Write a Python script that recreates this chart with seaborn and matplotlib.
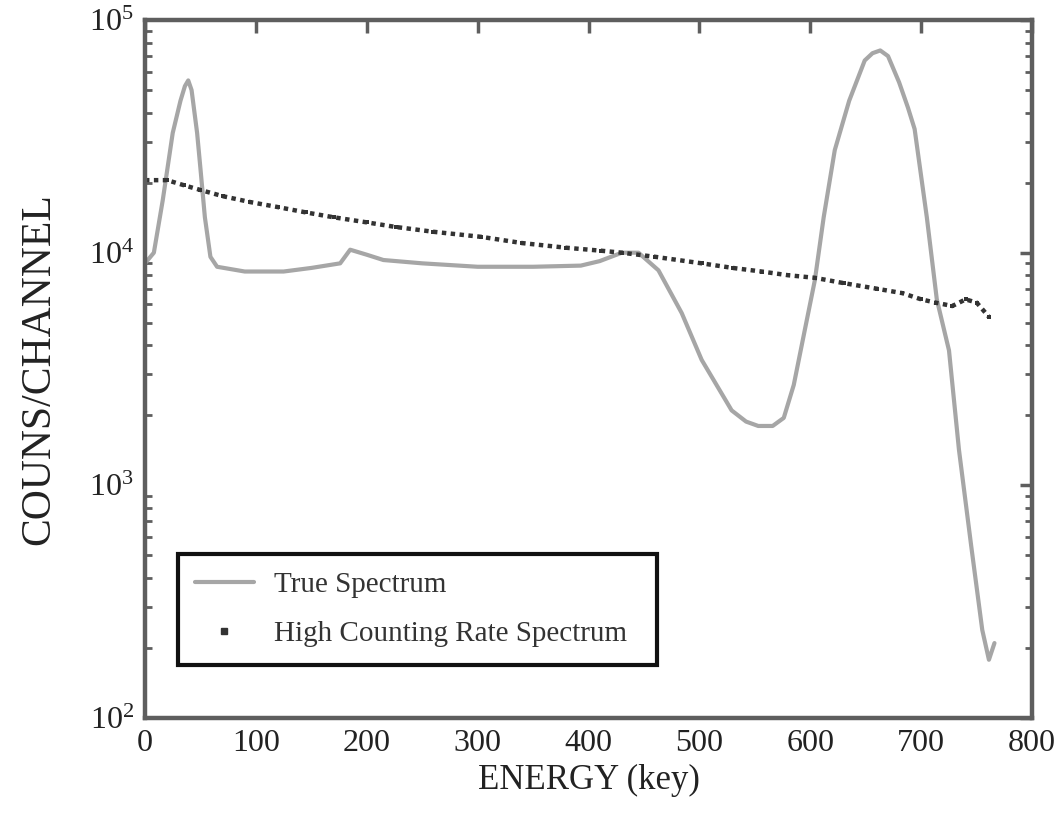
import numpy as np
import pandas as pd
import matplotlib
matplotlib.use("Agg")
import matplotlib.pyplot as plt
import seaborn as sns
from matplotlib.lines import Line2D
from matplotlib.ticker import LogLocator, NullFormatter

# ---- data ----
true_energy = [0, 8, 16, 25, 32, 36, 39, 42, 47, 50, 54, 59, 65, 90, 125, 150, 176,
               185, 200, 215, 250, 300, 350, 393, 410, 430, 445, 463, 484, 502,
               529, 542, 553, 566, 576, 585, 595, 604, 612, 622, 635, 649, 656,
               663, 670, 680, 688, 694, 705, 714, 725, 734, 745, 755, 761, 766]
true_counts = [9.0e3, 1.0e4, 1.68e4, 3.27e4, 4.5e4, 5.2e4, 5.5e4, 5.0e4, 3.27e4,
               2.3e4, 1.42e4, 9.6e3, 8.7e3, 8.3e3, 8.3e3, 8.6e3, 9.0e3, 1.03e4,
               9.8e3, 9.3e3, 9.0e3, 8.7e3, 8.7e3, 8.8e3, 9.2e3, 1.0e4, 1.0e4,
               8.4e3, 5.5e3, 3.46e3, 2.1e3, 1.88e3, 1.8e3, 1.8e3, 1.95e3, 2.7e3,
               4.66e3, 7.6e3, 1.42e4, 2.76e4, 4.5e4, 6.7e4, 7.2e4, 7.4e4, 7.0e4,
               5.4e4, 4.2e4, 3.4e4, 1.42e4, 6.3e3, 3.8e3, 1.42e3, 5.5e2, 2.39e2,
               1.78e2, 2.1e2]

hc_energy = [0, 20, 35, 50, 70, 95, 120, 145, 170, 200, 226, 260, 303, 340, 380,
             411, 430, 460, 502, 530, 556, 580, 604, 630, 660, 683, 700, 713, 728,
             740, 750, 761]
hc_counts = [2.05e4, 2.05e4, 1.95e4, 1.86e4, 1.75e4, 1.65e4, 1.57e4, 1.49e4,
             1.42e4, 1.35e4, 1.29e4, 1.23e4, 1.17e4, 1.1e4, 1.05e4, 1.02e4, 1.0e4,
             9.6e3, 9.0e3, 8.6e3, 8.3e3, 8.0e3, 7.8e3, 7.4e3, 7.0e3, 6.7e3, 6.3e3,
             6.1e3, 5.9e3, 6.3e3, 6.1e3, 5.3e3]

label_true = "True Spectrum"
label_hc = "High Counting Rate Spectrum"
x_label = "ENERGY (key)"
y_label = "COUNS/CHANNEL"
x_ticks = [0, 100, 200, 300, 400, 500, 600, 700, 800]

df_true = pd.DataFrame({"energy": true_energy, "counts": true_counts})
df_hc = pd.DataFrame({"energy": hc_energy, "counts": hc_counts})

sns.set_theme(style="white")
plt.rcParams["font.family"] = ["Liberation Serif", "DejaVu Serif"]
plt.rcParams["mathtext.fontset"] = "custom"
plt.rcParams["mathtext.rm"] = "Liberation Serif"
plt.rcParams["mathtext.it"] = "Liberation Serif:italic"
plt.rcParams["mathtext.bf"] = "Liberation Serif:bold"

fig = plt.figure(figsize=(10.63, 8.24), dpi=100)
ax = fig.add_axes([0.1364, 0.1286, 0.8346, 0.8471])

true_color = "#a6a6a6"
hc_color = "#333333"

sns.lineplot(data=df_true, x="energy", y="counts", ax=ax, color=true_color,
             linewidth=3, sort=False, legend=False)
sns.lineplot(data=df_hc, x="energy", y="counts", ax=ax, color=hc_color,
             linewidth=3.2, linestyle=(0, (1, 1.0)), marker="s", markersize=3,
             markeredgewidth=0, sort=False, legend=False)

ax.set_yscale("log")
ax.set_xlim(0, 800)
ax.set_ylim(1e2, 1e5)
ax.set_xticks(x_ticks)
ax.set_xticklabels([str(t) for t in x_ticks])
ax.yaxis.set_major_locator(LogLocator(base=10, numticks=10))
ax.yaxis.set_minor_locator(LogLocator(base=10, subs=np.arange(2, 10), numticks=20))
ax.yaxis.set_minor_formatter(NullFormatter())

spine_color = "#5e5e5e"
for s in ax.spines.values():
    s.set_color(spine_color)
    s.set_linewidth(3.2)

ax.tick_params(axis="both", which="major", direction="in", length=9, width=2.5,
               color=spine_color, top=True, right=True, labelsize=23, pad=8,
               labelcolor="#222222")
ax.tick_params(axis="y", which="minor", direction="in", length=5, width=2,
               color=spine_color, left=True, right=True)
ax.tick_params(axis="x", which="minor", bottom=False, top=False)

ax.set_xlabel(x_label, fontsize=25, color="#222222", labelpad=4)
ax.set_ylabel(y_label, fontsize=30, color="#222222", labelpad=22)

handles = [
    Line2D([], [], color=true_color, linewidth=3),
    Line2D([], [], color=hc_color, linestyle="none", marker="s", markersize=5),
]
leg = ax.legend(handles, [label_true, label_hc], loc="lower left",
                bbox_to_anchor=(0.037, 0.076, 0.54, 0.162), mode="expand",
                borderaxespad=0, fontsize=21, frameon=True, fancybox=False,
                handlelength=2.0, handletextpad=0.7, labelspacing=0.8,
                borderpad=0.6)
frame = leg.get_frame()
frame.set_edgecolor("#111111")
frame.set_linewidth(3)
frame.set_facecolor("white")
frame.set_alpha(1)
for t in leg.get_texts():
    t.set_color("#333333")

fig.savefig("out.png", dpi=100)
